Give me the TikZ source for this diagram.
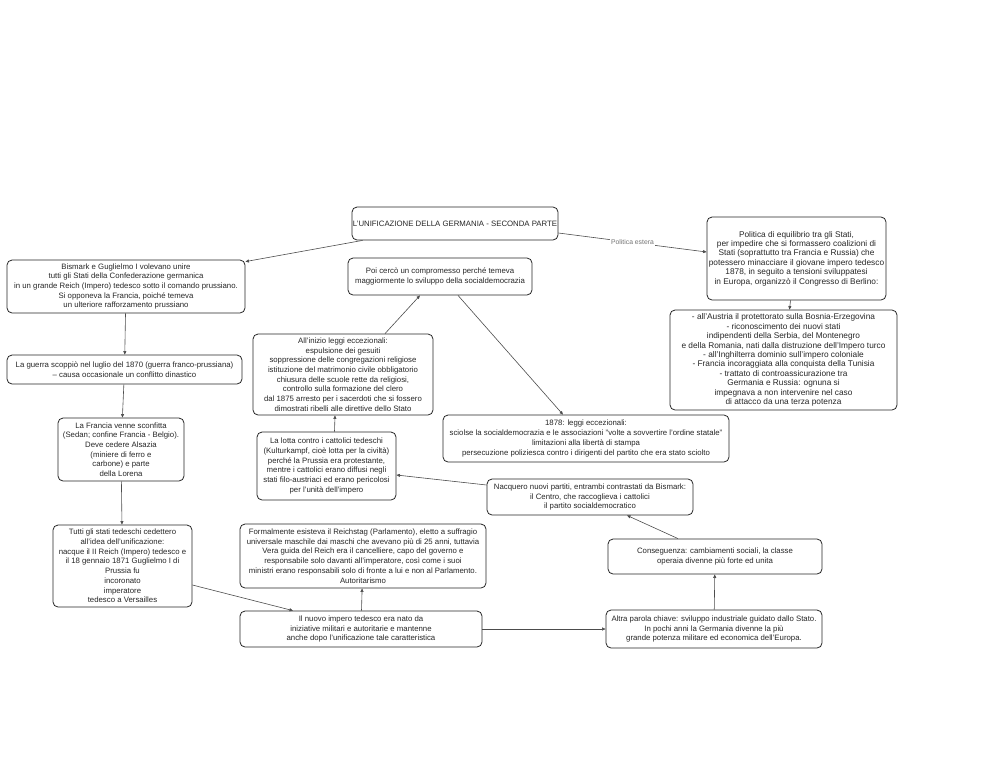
\documentclass[tikz,border=0pt]{standalone}
\usepackage{fontspec}
\setmainfont{Liberation Sans}
\usepackage{tikz}
\usetikzlibrary{arrows.meta,positioning}

\begin{document}
\begin{tikzpicture}[
  x=1pt, y=-1pt,
  box/.style={rectangle, draw=black!85, line width=0.8pt, rounded corners=5pt, align=center, inner sep=0.5pt, text=black!85, font=\fontsize{7.8}{9.7}\selectfont},
  bigbox/.style={box, font=\fontsize{8.3}{9.4}\selectfont},
  arrow/.style={-{Triangle[length=3.5pt,width=3pt]}, draw=black!70, line width=0.6pt},
  lbl/.style={fill=white, inner sep=1pt, text=black!55, font=\fontsize{6.8}{7}\selectfont},
]
\useasboundingbox (0,0) rectangle (992,766);

\node[box, minimum width=206pt, minimum height=33pt] (title) at (455,223.5) {L'UNIFICAZIONE DELLA GERMANIA - SECONDA PARTE};
\node[box, minimum width=238pt, minimum height=53pt] (bismark) at (126,286.5) {Bismark e Guglielmo I volevano unire\\tutti gli Stati della Confederazione germanica\\in un grande Reich (Impero) tedesco sotto il comando prussiano.\\Si opponeva la Francia, poiché temeva\\un ulteriore rafforzamento prussiano};
\node[box, minimum width=235pt, minimum height=29pt] (guerra) at (124.5,369.5) {La guerra scoppiò nel luglio del 1870 (guerra franco-prussiana)\\– causa occasionale un conflitto dinastico};
\node[box, minimum width=126pt, minimum height=63pt] (francia) at (121,449.5) {La Francia venne sconfitta\\(Sedan; confine Francia - Belgio).\\Deve cedere Alsazia\\(miniere di ferro e\\carbone) e parte\\della Lorena};
\node[box, minimum width=139pt, minimum height=82pt] (reich) at (122.5,566) {Tutti gli stati tedeschi cedettero\\all'idea dell'unificazione:\\nacque il II Reich (Impero) tedesco e\\il 18 gennaio 1871 Guglielmo I di\\Prussia fu\\incoronato\\imperatore\\tedesco a Versailles};

\node[box, minimum width=184pt, minimum height=37pt] (compromesso) at (440,276.5) {Poi cercò un compromesso perché temeva\\maggiormente lo sviluppo della socialdemocrazia};
\node[box, minimum width=180pt, minimum height=81pt] (leggi) at (343,374.5) {All'inizio leggi eccezionali:\\espulsione dei gesuiti\\soppressione delle congregazioni religiose\\istituzione del matrimonio civile obbligatorio\\chiusura delle scuole rette da religiosi,\\controllo sulla formazione del clero\\dal 1875 arresto per i sacerdoti che si fossero\\dimostrati ribelli alle direttive dello Stato};
\node[box, minimum width=139pt, minimum height=68pt] (kultur) at (326.5,466) {La lotta contro i cattolici tedeschi\\(Kulturkampf, cioè lotta per la civiltà)\\perché la Prussia era protestante,\\mentre i cattolici erano diffusi negli\\stati filo-austriaci ed erano pericolosi\\per l'unità dell'impero};
\node[box, minimum width=286pt, minimum height=47pt] (socialdem) at (586,438.5) {1878: leggi eccezionali:\\sciolse la socialdemocrazia e le associazioni "volte a sovvertire l'ordine statale"\\limitazioni alla libertà di stampa\\persecuzione poliziesca contro i dirigenti del partito che era stato sciolto};
\node[box, minimum width=206pt, minimum height=36pt] (partiti) at (590,497) {Nacquero nuovi partiti, entrambi contrastati da Bismark:\\il Centro, che raccoglieva i cattolici\\il partito socialdemocratico};
\node[box, minimum width=246pt, minimum height=64pt] (reichstag) at (363,556) {Formalmente esisteva il Reichstag (Parlamento), eletto a suffragio\\universale maschile dai maschi che avevano più di 25 anni, tuttavia\\Vera guida del Reich era il cancelliere, capo del governo e\\responsabile solo davanti all'imperatore, così come i suoi\\ministri erano responsabili solo di fronte a lui e non al Parlamento.\\Autoritarismo};
\node[box, minimum width=242pt, minimum height=36pt] (impero) at (361,629) {Il nuovo impero tedesco era nato da\\iniziative militari e autoritarie e mantenne\\anche dopo l'unificazione tale caratteristica};
\node[box, minimum width=216pt, minimum height=38pt] (industria) at (714,629) {Altra parola chiave: sviluppo industriale guidato dallo Stato.\\In pochi anni la Germania divenne la più\\grande potenza militare ed economica dell'Europa.};
\node[box, minimum width=214pt, minimum height=35pt] (conseguenza) at (715,556.5) {Conseguenza: cambiamenti sociali, la classe\\operaia divenne più forte ed unita};

\node[bigbox, minimum width=179pt, minimum height=83pt] (politica) at (796.5,258.5) {Politica di equilibrio tra gli Stati,\\per impedire che si formassero coalizioni di\\Stati (soprattutto tra Francia e Russia) che\\potessero minacciare il giovane impero tedesco\\1878, in seguito a tensioni sviluppatesi\\in Europa, organizzò il Congresso di Berlino:};
\node[bigbox, minimum width=227pt, minimum height=100pt] (berlino) at (783.5,360) {- all'Austria il protettorato sulla Bosnia-Erzegovina\\- riconoscimento dei nuovi stati\\indipendenti della Serbia, del Montenegro\\e della Romania, nati dalla distruzione dell'Impero turco\\- all'Inghilterra dominio sull'impero coloniale\\- Francia incoraggiata alla conquista della Tunisia\\- trattato di controassicurazione tra\\Germania e Russia: ognuna si\\impegnava a non intervenire nel caso\\di attacco da una terza potenza};

% connectors
\draw[arrow] ([xshift=11pt]title.south west) -- ([yshift=-2pt]bismark.north east);
\draw[arrow] ([yshift=-9.5pt]title.east) -- node[lbl] {Politica estera} ([yshift=6.5pt]politica.west);
\draw[arrow] (bismark) -- (guerra);
\draw[arrow] (guerra) -- (francia);
\draw[arrow] (francia) -- (reich);
\draw[arrow] ([yshift=-19pt]reich.east) -- ([xshift=-68pt]impero.north);
\draw[arrow] (impero) -- (reichstag);
\draw[arrow] (impero) -- (industria);
\draw[arrow] (industria) -- (conseguenza);
\draw[arrow] ([xshift=-37pt]conseguenza.north) -- ([xshift=37pt]partiti.south);
\draw[arrow] ([yshift=12pt]partiti.west) -- ([yshift=-9pt]kultur.east);
\draw[arrow] ([xshift=8pt]kultur.north) -- ([xshift=-8pt]leggi.south);
\draw[arrow] ([xshift=42pt]leggi.north) -- ([xshift=-20pt]compromesso.south);
\draw[arrow] ([xshift=18pt]compromesso.south) -- ([xshift=-23pt]socialdem.north);
\draw[arrow] ([xshift=-6pt]politica.south) -- ([xshift=6pt]berlino.north);
\end{tikzpicture}
\end{document}
